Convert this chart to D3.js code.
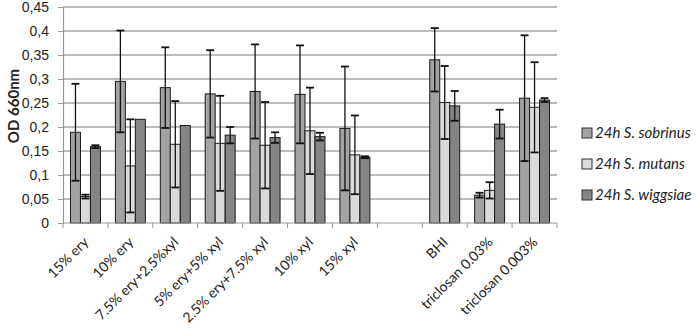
<!DOCTYPE html>
<html>
<head>
<meta charset="utf-8">
<script src="https://d3js.org/d3.v7.min.js"></script>
<style>
  body { margin: 0; background: #fff; }
  svg { display: block; font-family: Lato, "Open Sans", sans-serif; }
</style>
</head>
<body>
<svg id="drawing_region"></svg>
<script>
const categories = ["15% ery", "10% ery", "7.5% ery+2.5%xyl", "5% ery+5% xyl", "2.5% ery+7.5% xyl",
                    "10% xyl", "15% xyl", "", "BHI", "triclosan 0.03%", "triclosan 0.003%"];
const seriesNames = ["24h S. sobrinus", "24h S. mutans", "24h S. wiggsiae"];
const sobrinus = [0.189, 0.295, 0.282, 0.269, 0.274, 0.268, 0.197, null, 0.340, 0.058, 0.260];
const sobrinusErr = [0.101, 0.106, 0.084, 0.091, 0.098, 0.102, 0.129, null, 0.066, 0.005, 0.131];
const mutans = [0.055, 0.119, 0.164, 0.166, 0.162, 0.192, 0.142, null, 0.251, 0.068, 0.241];
const mutansErr = [0.004, 0.097, 0.090, 0.099, 0.090, 0.090, 0.082, null, 0.076, 0.017, 0.094];
const wiggsiae = [0.159, 0.216, 0.203, 0.183, 0.178, 0.180, 0.137, null, 0.244, 0.206, 0.256];
const wiggsiaeErr = [0.003, 0, 0, 0.017, 0.011, 0.008, 0.002, null, 0.031, 0.030, 0.004];
const yTicks = [0, 0.05, 0.1, 0.15, 0.2, 0.25, 0.3, 0.35, 0.4, 0.45];
const colors = ["#a3a3a3", "#dadada", "#858585"];

const values = [sobrinus, mutans, wiggsiae];
const errors = [sobrinusErr, mutansErr, wiggsiaeErr];

class BarChart {

    constructor( config ) {
        this.config = config;
        this.init();
    }

    init() {
        let self = this;
        let m = self.config.margin;

        self.svg = d3.select( self.config.parent )
            .attr('width', self.config.width)
            .attr('height', self.config.height);

        self.chart = self.svg.append('g')
            .attr('transform', `translate(${m.left}, ${m.top})`);

        self.inner_width = self.config.width - m.left - m.right;
        self.inner_height = self.config.height - m.top - m.bottom;

        self.xscale = d3.scaleBand()
            .domain( d3.range(categories.length) )
            .range( [0, self.inner_width] );

        self.sscale = d3.scaleBand()
            .domain( d3.range(seriesNames.length) )
            .range( [self.xscale.bandwidth()/6, self.xscale.bandwidth()*5/6] );

        self.yscale = d3.scaleLinear()
            .domain( [0, 0.45] )
            .range( [self.inner_height, 0] );
    }

    render() {
        let self = this;
        let fmt = d => d3.format('~g')(d).replace('.', ',');

        // grid
        self.chart.append('g')
            .selectAll('line')
            .data(yTicks.filter(d => d > 0))
            .join('line')
            .attr('x1', 0).attr('x2', self.inner_width)
            .attr('y1', d => self.yscale(d)).attr('y2', d => self.yscale(d))
            .attr('stroke', '#a6a6a6').attr('stroke-width', 1.5);

        // y axis
        let yaxis = d3.axisLeft( self.yscale )
            .tickValues(yTicks)
            .tickSizeInner(5)
            .tickSizeOuter(0)
            .tickPadding(9)
            .tickFormat(fmt);
        let yg = self.chart.append('g').call(yaxis);
        yg.select('.domain').attr('stroke', '#999').attr('stroke-width', 1.2);
        yg.selectAll('.tick line').attr('stroke', '#999');
        yg.selectAll('text').attr('font-size', 14).attr('fill', '#222');

        // bars
        values.forEach( (vals, s) => {
            let items = vals.map((v, i) => ({i: i, v: v, e: errors[s][i]})).filter(d => d.v !== null);
            let g = self.chart.append('g');
            g.selectAll('rect')
                .data(items)
                .join('rect')
                .attr('x', d => self.xscale(d.i) + self.sscale(s))
                .attr('y', d => self.yscale(d.v))
                .attr('width', self.sscale.bandwidth())
                .attr('height', d => self.inner_height - self.yscale(d.v))
                .attr('fill', colors[s])
                .attr('stroke', '#1a1a1a')
                .attr('stroke-width', 1);
        });

        // error bars
        values.forEach( (vals, s) => {
            let items = vals.map((v, i) => ({i: i, v: v, e: errors[s][i]})).filter(d => d.v !== null && d.e > 0);
            let cx = d => self.xscale(d.i) + self.sscale(s) + self.sscale.bandwidth()/2;
            let g = self.chart.append('g').attr('stroke', '#111').attr('stroke-width', 1.3);
            g.selectAll('.v').data(items).join('line')
                .attr('x1', cx).attr('x2', cx)
                .attr('y1', d => self.yscale(d.v + d.e)).attr('y2', d => self.yscale(d.v - d.e));
            [1, -1].forEach( sign => {
                g.selectAll('.c' + sign).data(items).enter().append('line')
                    .attr('x1', d => cx(d) - 4).attr('x2', d => cx(d) + 4)
                    .attr('y1', d => self.yscale(d.v + sign*d.e)).attr('y2', d => self.yscale(d.v + sign*d.e))
                    .attr('stroke-width', 1.8);
            });
        });

        // x axis
        let xg = self.chart.append('g')
            .attr('transform', `translate(0, ${self.inner_height})`);
        xg.append('line')
            .attr('x1', 0).attr('x2', self.inner_width)
            .attr('stroke', '#999').attr('stroke-width', 1.2);
        xg.selectAll('.tick')
            .data(d3.range(categories.length + 1))
            .join('line')
            .attr('x1', d => d * self.xscale.step()).attr('x2', d => d * self.xscale.step())
            .attr('y1', 0).attr('y2', 5)
            .attr('stroke', '#999');
        xg.selectAll('text')
            .data(categories)
            .join('text')
            .attr('transform', (d, i) => `translate(${self.xscale(i) + self.xscale.bandwidth()/2 + 4}, 20) rotate(-45)`)
            .attr('text-anchor', 'end')
            .attr('font-size', 14)
            .attr('fill', '#222')
            .text(d => d);

        // y label
        self.svg.append('text')
            .attr('transform', `translate(19, 106) rotate(-90)`)
            .attr('text-anchor', 'middle')
            .attr('font-size', 15)
            .attr('font-weight', 'bold')
            .attr('fill', '#222')
            .text('OD 660nm');

        // legend
        let lg = self.svg.append('g').attr('transform', 'translate(582, 133)');
        seriesNames.forEach( (name, s) => {
            lg.append('rect')
                .attr('x', 0).attr('y', s*31 - 5)
                .attr('width', 10).attr('height', 10)
                .attr('fill', colors[s]).attr('stroke', '#333');
            lg.append('text')
                .attr('x', 13).attr('y', s*31 + 5)
                .attr('font-size', 15)
                .attr('font-style', 'italic')
                .attr('fill', '#222')
                .text(name);
        });
    }
}

const chart = new BarChart({
    parent: '#drawing_region',
    width: 696,
    height: 329,
    margin: {top: 7, right: 139, bottom: 106, left: 63}
});
chart.render();
</script>
</body>
</html>
